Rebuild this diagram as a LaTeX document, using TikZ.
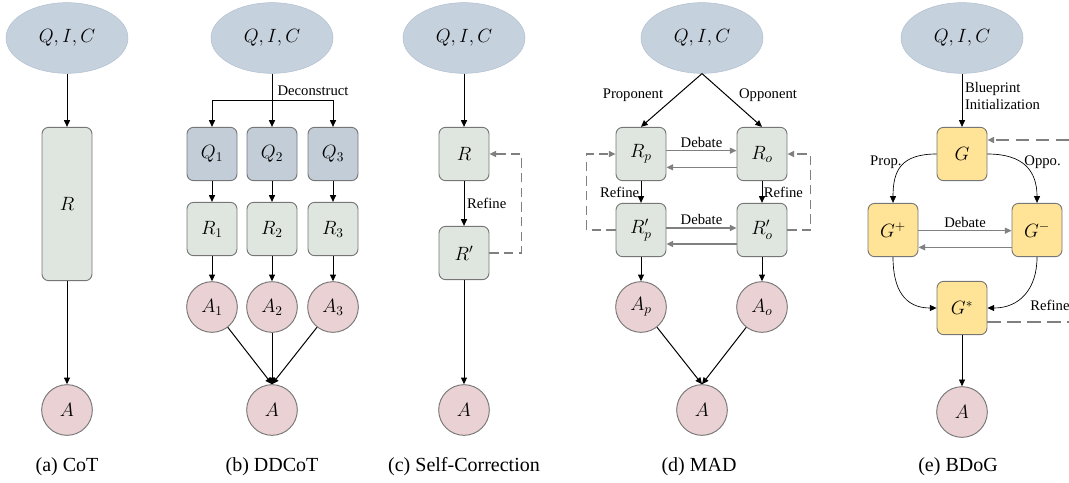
\documentclass[tikz,border=0pt]{standalone}
\usepackage{fontspec}
\setmainfont{Liberation Serif}
\usetikzlibrary{
    arrows.meta,
    positioning,
    shapes.geometric,
    calc
}

\definecolor{inputblue}{RGB}{198,209,222}
\definecolor{inputedge}{RGB}{178,192,207}
\definecolor{subqblue}{RGB}{194,205,216}
\definecolor{reasongreen}{RGB}{223,230,224}
\definecolor{answerpink}{RGB}{234,209,212}
\definecolor{blueprintyellow}{RGB}{255,228,152}
\definecolor{boxedge}{RGB}{118,118,118}
\definecolor{arrowgray}{RGB}{128,128,128}

\begin{document}
\begin{tikzpicture}[
    x=0.75pt, y=-0.75pt,
    input/.style={
      ellipse,
      draw=inputedge,
      fill=inputblue,
      minimum width=91.5pt,
      minimum height=53pt,
      inner sep=0pt,
      font=\fontsize{14}{16}\selectfont
    },
    reason/.style={
      draw=boxedge,
      fill=reasongreen,
      rounded corners=5pt,
      minimum width=37.5pt,
      minimum height=40pt,
      inner sep=0pt,
      line width=0.7pt,
      font=\fontsize{14}{16}\selectfont
    },
    subq/.style={reason, fill=subqblue},
    blueprint/.style={reason, fill=blueprintyellow},
    answer/.style={
      circle,
      draw=boxedge,
      fill=answerpink,
      minimum size=38pt,
      inner sep=0pt,
      line width=0.7pt,
      font=\fontsize{14}{16}\selectfont
    },
    flow/.style={-{Triangle[length=5pt,width=4.5pt]}, line width=0.75pt},
    thin flow/.style={flow, line width=0.5pt},
    debate/.style={-{Triangle[length=5pt,width=4.5pt]}, draw=arrowgray, line width=1pt},
    refine/.style={
      -{Triangle[length=5pt,width=4.5pt]},
      draw=arrowgray,
      line width=1.1pt,
      dash pattern=on 7pt off 4pt
    },
    lbl/.style={font=\fontsize{11}{13}\selectfont, inner sep=2pt},
    caption/.style={font=\fontsize{15}{17}\selectfont}
  ]

  \useasboundingbox (0,0) rectangle (1069,482);

  % (a) CoT {{{
  \node[input] (cot-in) at (67,38) {$Q,I,C$};
  \node[reason, minimum height=115pt] (cot-r) at (67,204) {$R$};
  \node[answer] (cot-a) at (67,410) {$A$};
  \node[caption] (cot-cap) at (67,467) {(a) CoT};
  \draw[flow] (cot-in) -- (cot-r);
  \draw[flow] (cot-r) -- (cot-a);
  % }}}

  % (b) DDCoT {{{
  \node[input] (dd-in) at (272,38) {$Q,I,C$};
  \node[answer] (dd-a) at (272,410) {$A$};
  \node[caption] (dd-cap) at (272,467) {(b) DDCoT};
  \coordinate (dd-split) at (272,100);
  \draw[line width=0.75pt] (dd-in) -- (dd-split);
  \node[lbl, above right=1pt and 2pt] (dd-lbl) at (dd-split) {Deconstruct};
  \foreach \i/\x in {1/212, 2/272, 3/333} {
    \node[subq] (dd-q\i) at (\x,154) {$Q_\i$};
    \node[reason] (dd-r\i) at (\x,229) {$R_\i$};
    \node[answer] (dd-a\i) at (\x,307) {$A_\i$};
    \draw[flow] (dd-split) -| (dd-q\i);
    \draw[flow] (dd-q\i) -- (dd-r\i);
    \draw[flow] (dd-r\i) -- (dd-a\i);
    \draw[flow] (dd-a\i) -- (dd-a.north);
  }
  % }}}

  % (c) Self-Correction {{{
  \node[input] (sc-in) at (464,38) {$Q,I,C$};
  \node[reason] (sc-r) at (464,154) {$R$};
  \node[reason] (sc-r2) at (464,253) {$R'$};
  \node[answer] (sc-a) at (464,410) {$A$};
  \node[caption] (sc-cap) at (464,467) {(c) Self-Correction};
  \draw[flow] (sc-in) -- (sc-r);
  \draw[flow] (sc-r) -- node[lbl, right] {Refine} (sc-r2);
  \draw[flow] (sc-r2) -- (sc-a);
  \draw[refine] (sc-r2.east) -- ++(32,0) |- (sc-r.east);
  % }}}

  % (d) MAD {{{
  \node[input] (mad-in) at (702,38) {$Q,I,C$};
  \node[reason] (mad-rp) at (641,154) {$R_p$};
  \node[reason] (mad-ro) at (762,154) {$R_o$};
  \node[reason] (mad-rp2) at (641,230) {$R'_p$};
  \node[reason] (mad-ro2) at (762,230) {$R'_o$};
  \node[answer] (mad-ap) at (641,307) {$A_p$};
  \node[answer] (mad-ao) at (762,307) {$A_o$};
  \node[answer] (mad-a) at (702,410) {$A$};
  \node[caption] (mad-cap) at (699,467) {(d) MAD};
  \draw[flow] (mad-in.south) -- (mad-rp.north);
  \draw[flow] (mad-in.south) -- (mad-ro.north);
  \node[lbl] (mad-pro) at (633,95) {Proponent};
  \node[lbl] (mad-opp) at (768,95) {Opponent};
  \draw[debate] ([yshift=2.5pt]mad-rp.east) -- node[lbl, above] {Debate} ([yshift=2.5pt]mad-ro.west);
  \draw[debate] ([yshift=-10pt]mad-ro.west) -- ([yshift=-10pt]mad-rp.east);
  \draw[debate] ([yshift=1.5pt]mad-rp2.east) -- node[lbl, above] {Debate} ([yshift=1.5pt]mad-ro2.west);
  \draw[debate] ([yshift=-10.5pt]mad-ro2.west) -- ([yshift=-10.5pt]mad-rp2.east);
  \draw[flow] (mad-rp) -- node[lbl, left, inner sep=1pt] {Refine} (mad-rp2);
  \draw[flow] (mad-ro) -- node[lbl, right, inner sep=1pt] {Refine} (mad-ro2);
  \draw[refine] (mad-rp2.west) -- ++(-29,0) |- (mad-rp.west);
  \draw[refine] (mad-ro2.east) -- ++(23,0) |- (mad-ro.east);
  \draw[flow] (mad-rp2) -- (mad-ap);
  \draw[flow] (mad-ro2) -- (mad-ao);
  \draw[flow] (mad-ap) -- (mad-a.north);
  \draw[flow] (mad-ao) -- (mad-a.north);
  % }}}

  % (e) BDoG {{{
  \node[input] (bd-in) at (962,38) {$Q,I,C$};
  \node[blueprint] (bd-g) at (962,154) {$G$};
  \node[blueprint] (bd-gp) at (893,230) {$G^+$};
  \node[blueprint] (bd-gm) at (1037,230) {$G^-$};
  \node[blueprint] (bd-gs) at (962,308) {$G^*$};
  \node[answer] (bd-a) at (962,412) {$A$};
  \node[caption] (bd-cap) at (958,467) {(e) BDoG};
  \draw[thin flow] (bd-in) -- node[lbl, right, align=left, pos=0.42] {Blueprint\\Initialization} (bd-g);
  \draw[thin flow] (bd-g.west) .. controls +(-36,0) and +(0,-32) .. (bd-gp.north);
  \draw[thin flow] (bd-g.east) .. controls +(36,0) and +(0,-32) .. (bd-gm.north);
  \node[lbl, anchor=east] (bd-prop) at ($(bd-g.west)+(-32,8)$) {Prop.};
  \node[lbl, anchor=west] (bd-oppo) at ($(bd-g.east)+(34,8)$) {Oppo.};
  \draw[debate] ([yshift=-0.5pt]bd-gp.east) -- node[lbl, above] {Debate} ([yshift=-0.5pt]bd-gm.west);
  \draw[debate] ([yshift=-13pt]bd-gm.west) -- ([yshift=-13pt]bd-gp.east);
  \draw[thin flow] (bd-gp.south) .. controls +(0,32) and +(-32,0) .. (bd-gs.west);
  \draw[thin flow] (bd-gm.south) .. controls +(0,32) and +(32,0) .. (bd-gs.east);
  \draw[refine, dash pattern=on 10pt off 5pt] ([yshift=-10.5pt]bd-gs.east) -- ++(100,0) |- ([yshift=10.5pt]bd-g.east);
  \node[lbl, anchor=south west] (bd-ref) at ($(bd-gs.east)+(40,6)$) {Refine};
  \draw[thin flow] (bd-gs) -- (bd-a);
  % }}}

\end{tikzpicture}
\end{document}
